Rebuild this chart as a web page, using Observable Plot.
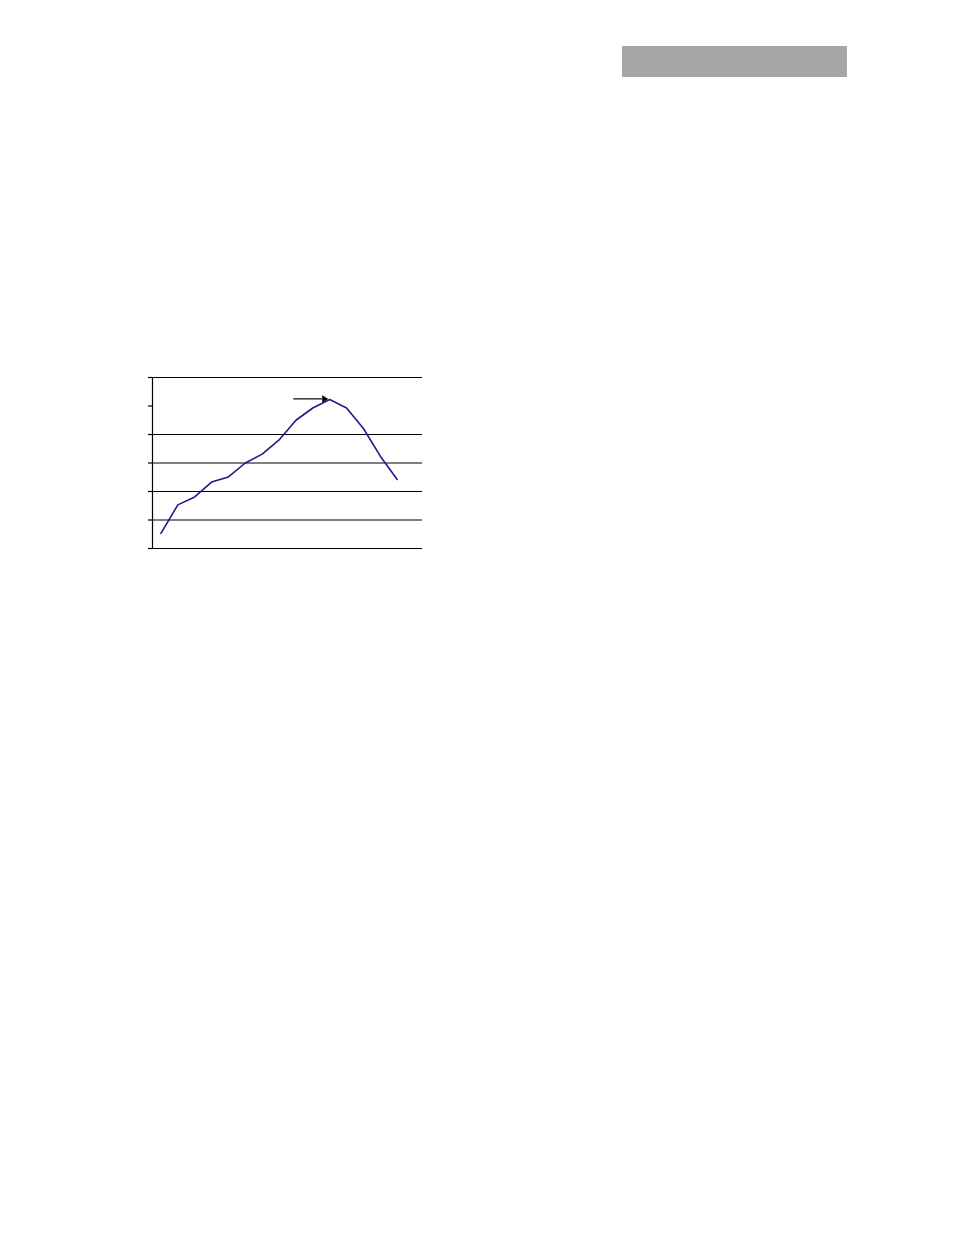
<!DOCTYPE html>
<html>
<head>
<meta charset="utf-8">
<script src="https://cdn.jsdelivr.net/npm/d3@7"></script>
<script src="https://cdn.jsdelivr.net/npm/@observablehq/plot@0.6"></script>
<style>
  html, body { margin: 0; padding: 0; background: #fff; }
  #wrap { position: relative; width: 954px; height: 1235px; overflow: hidden; }
  #bar { position: absolute; left: 622px; top: 46px; width: 225px; height: 31px; background: #a6a6a6; }
  #chart { position: absolute; left: 0; top: 0; }
</style>
</head>
<body>
<div id="wrap">
  <div id="bar"></div>
  <div id="chart"></div>
</div>
<script>
// Data (16 category slots, 15 values)
const index = [0, 1, 2, 3, 4, 5, 6, 7, 8, 9, 10, 11, 12, 13, 14];
const values = [0.53, 1.53, 1.81, 2.33, 2.51, 3.00, 3.31, 3.81, 4.50, 4.93, 5.23, 4.93, 4.21, 3.24, 2.42];
const yTicks = [0, 1, 2, 3, 4, 5, 6];
const gridValues = [0, 1, 2, 3, 4, 6];
const arrowFrom = 7.84, arrowTo = 9.85, arrowY = 5.25;

const data = index.map((i, k) => ({x: i, y: values[k]}));

const chart = Plot.plot({
  width: 954,
  height: 1235,
  marginLeft: 152,
  marginRight: 532,
  marginTop: 377,
  marginBottom: 687,
  x: {domain: [-0.5, 15.5], axis: null},
  y: {domain: [0, 6], label: null},
  marks: [
    Plot.ruleY(gridValues, {x1: -0.5, x2: 15.5, stroke: "#000", strokeWidth: 1.2}),
    Plot.ruleX([-0.5], {y1: 0, y2: 6, stroke: "#000", strokeWidth: 1.2}),
    Plot.axisY(yTicks, {tickSize: 4, tickFormat: () => "", label: null, stroke: "#000", strokeWidth: 1.2}),
    Plot.line(data, {x: "x", y: "y", stroke: "#1c1c8a", strokeWidth: 1.6}),
    Plot.link([{a: arrowFrom, b: arrowTo - 0.3}], {x1: "a", x2: "b", y1: () => arrowY, y2: () => arrowY, stroke: "#000", strokeWidth: 1.2}),
    Plot.dot([{a: arrowTo - 0.17}], {x: "a", y: () => arrowY, symbol: "triangle", r: 2.6, rotate: 90, fill: "#000", stroke: "none"})
  ]
});
document.getElementById("chart").appendChild(chart);
</script>
</body>
</html>
